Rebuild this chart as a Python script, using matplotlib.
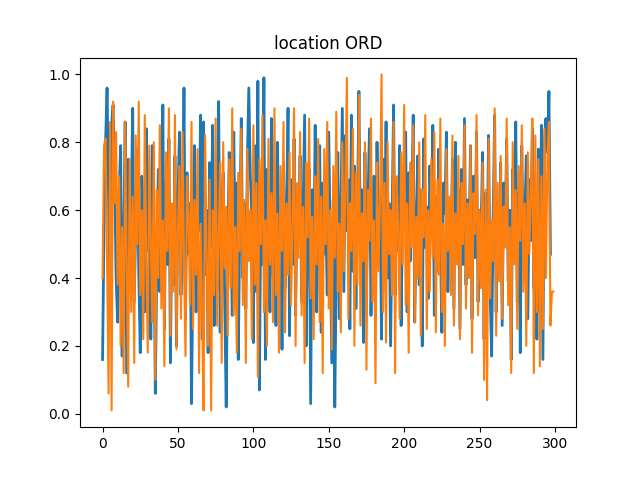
import matplotlib
matplotlib.use("Agg")
import matplotlib.pyplot as plt

title = "location ORD"

series_a = [
0.16,0.55,0.80,0.96,0.62,0.30,0.85,0.91,0.70,0.40,0.27,0.65,0.79,0.17,0.50,0.86,0.12,0.75,0.40,0.62,
0.90,0.33,0.55,0.78,0.42,0.18,0.70,0.60,0.30,0.84,0.48,0.66,0.22,0.79,0.55,0.06,0.45,0.72,0.36,0.58,
0.91,0.25,0.68,0.44,0.81,0.15,0.57,0.38,0.76,0.20,0.64,0.83,0.35,0.52,0.96,0.28,0.71,0.47,0.62,0.03,
0.45,0.79,0.30,0.67,0.54,0.88,0.22,0.86,0.41,0.60,0.18,0.74,0.49,0.85,0.26,0.63,0.37,0.92,0.24,0.59,
0.71,0.33,0.02,0.48,0.77,0.61,0.29,0.83,0.45,0.68,0.16,0.55,0.87,0.40,0.62,0.31,0.74,0.96,0.70,0.58,
0.21,0.79,0.36,0.98,0.07,0.65,0.44,0.99,0.16,0.72,0.55,0.30,0.87,0.41,0.66,0.26,0.80,0.48,0.62,0.19,
0.74,0.37,0.58,0.90,0.23,0.69,0.44,0.81,0.29,0.63,0.52,0.76,0.33,0.60,0.88,0.20,0.55,0.72,0.03,0.66,
0.41,0.85,0.30,0.57,0.79,0.24,0.68,0.47,0.61,0.35,0.83,0.50,0.15,0.63,0.02,0.44,0.77,0.28,0.60,0.90,
0.36,0.82,0.54,0.69,0.25,0.88,0.42,0.73,0.31,0.59,0.95,0.48,0.66,0.21,0.77,0.39,0.62,0.84,0.29,0.55,
0.70,0.33,0.80,0.45,0.64,0.22,0.75,0.52,0.86,0.40,0.62,0.20,0.58,0.91,0.35,0.68,0.48,0.79,0.26,0.63,
0.56,0.83,0.30,0.71,0.45,0.62,0.88,0.27,0.54,0.76,0.38,0.66,0.20,0.81,0.49,0.61,0.34,0.73,0.57,0.85,
0.29,0.64,0.42,0.78,0.52,0.24,0.68,0.59,0.83,0.36,0.61,0.47,0.75,0.31,0.80,0.55,0.66,0.25,0.72,0.44,
0.87,0.38,0.63,0.51,0.79,0.28,0.70,0.46,0.83,0.33,0.60,0.54,0.77,0.22,0.65,0.48,0.82,0.36,0.17,0.58,
0.88,0.30,0.62,0.45,0.74,0.26,0.68,0.55,0.81,0.39,0.60,0.16,0.72,0.49,0.86,0.33,0.65,0.18,0.79,0.44,
0.58,0.76,0.28,0.69,0.51,0.84,0.37,0.62,0.22,0.78,0.30,0.85,0.16,0.80,0.87,0.77,0.95,0.47]

series_b = [
0.40,0.79,0.81,0.45,0.06,0.86,0.01,0.92,0.62,0.83,0.38,0.70,0.20,0.55,0.12,0.86,0.45,0.08,0.75,0.30,
0.64,0.15,0.82,0.50,0.92,0.35,0.60,0.22,0.88,0.44,0.18,0.79,0.52,0.27,0.80,0.10,0.66,0.40,0.85,0.31,
0.57,0.14,0.77,0.48,0.90,0.23,0.62,0.36,0.88,0.19,0.54,0.73,0.28,0.83,0.45,0.17,0.70,0.58,0.32,0.86,
0.25,0.63,0.41,0.78,0.12,0.56,0.30,0.01,0.82,0.47,0.20,0.69,0.01,0.60,0.35,0.87,0.26,0.52,0.74,0.15,
0.80,0.43,0.61,0.23,0.75,0.37,0.90,0.29,0.55,0.18,0.71,0.48,0.84,0.32,0.63,0.15,0.78,0.45,0.60,0.22,
0.85,0.38,0.68,0.11,0.75,0.50,0.88,0.30,0.57,0.20,0.81,0.44,0.65,0.27,0.90,0.35,0.59,0.18,0.73,0.48,
0.86,0.24,0.62,0.41,0.77,0.32,0.55,0.90,0.20,0.68,0.46,0.83,0.29,0.61,0.15,0.74,0.52,0.87,0.34,0.58,
0.22,0.70,0.44,0.81,0.27,0.64,0.12,0.78,0.50,0.86,0.31,0.60,0.19,0.73,0.46,0.89,0.36,0.56,0.24,0.80,
0.42,0.67,0.99,0.28,0.62,0.48,0.84,0.20,0.71,0.38,0.94,0.26,0.59,0.45,0.80,0.13,0.66,0.51,0.87,0.33,
0.57,0.09,0.74,0.42,0.63,1.00,0.30,0.68,0.21,0.80,0.47,0.60,0.35,0.86,0.12,0.70,0.55,0.28,0.77,0.44,
0.91,0.32,0.62,0.18,0.74,0.49,0.85,0.27,0.58,0.40,0.80,0.23,0.66,0.52,0.88,0.25,0.60,0.36,0.75,0.46,
0.83,0.24,0.69,0.41,0.87,0.30,0.56,0.20,0.78,0.48,0.64,0.35,0.82,0.26,0.59,0.44,0.76,0.22,0.68,0.50,
0.85,0.31,0.62,0.40,0.79,0.18,0.65,0.53,0.88,0.29,0.60,0.37,0.74,0.10,0.66,0.04,0.81,0.34,0.57,0.45,
0.90,0.23,0.68,0.39,0.76,0.28,0.61,0.49,0.87,0.32,0.55,0.12,0.80,0.44,0.66,0.25,0.73,0.51,0.85,0.36,
0.62,0.20,0.77,0.47,0.64,0.87,0.12,0.82,0.30,0.75,0.14,0.70,0.25,0.84,0.40,0.76,0.86,0.26,0.36,0.36]

fig, ax = plt.subplots(figsize=(6.4, 4.8), dpi=100)
ax.plot(range(len(series_a)), series_a, linewidth=2)
ax.plot(range(len(series_b)), series_b)
ax.set_title(title)
fig.savefig("out.png")
